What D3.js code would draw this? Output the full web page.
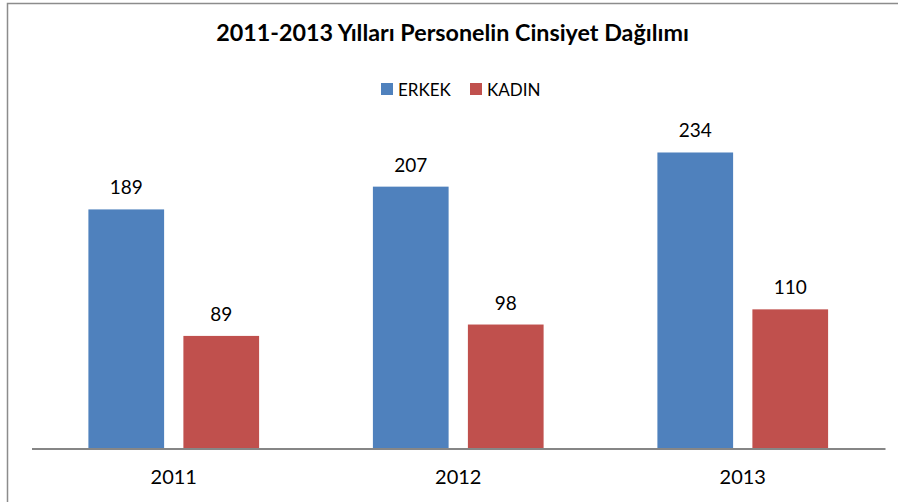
<!DOCTYPE html>
<html><head><meta charset="utf-8">
<script src="https://cdn.jsdelivr.net/npm/d3@7"></script>
<style>body{margin:0;background:#fff}svg{display:block}text{font-family:Lato,"Open Sans",sans-serif}</style>
</head><body>
<svg id="c" width="898" height="502"></svg>
<script>
const categories = ["2011", "2012", "2013"];
const seriesNames = ["ERKEK", "KADIN"];
const erkek = [189, 207, 234];
const kadin = [89, 98, 110];
const colors = ["#4F81BD", "#C0504D"];
const title = "2011-2013 Yılları Personelin Cinsiyet Dağılımı";

const svg = d3.select("#c");
const W = 898, H = 502;
svg.append("rect").attr("x", 0).attr("y", 0).attr("width", W).attr("height", H).attr("fill", "#fff");
svg.append("rect").attr("x", 7.5).attr("y", 3.5).attr("width", W + 10).attr("height", H + 10)
  .attr("fill", "none").attr("stroke", "#8c8c8c").attr("stroke-width", 1.5);

const x = d3.scaleBand().domain(categories).range([31.5, 885]).paddingInner(0).paddingOuter(0);
const xs = d3.scaleBand().domain(seriesNames).range([0, x.bandwidth()]).paddingInner(0.203).paddingOuter(0.599);
const y = d3.scaleLinear().domain([0, 250]).range([448.5, 132.25]);

const data = categories.map((c, i) => ({cat: c, vals: [erkek[i], kadin[i]]}));

const g = svg.append("g");
const groups = g.selectAll("g.grp").data(data).join("g").attr("class", "grp")
  .attr("transform", d => `translate(${x(d.cat)},0)`);
groups.selectAll("rect").data(d => d.vals.map((v, j) => ({s: seriesNames[j], v, j})))
  .join("rect")
  .attr("x", d => xs(d.s)).attr("width", xs.bandwidth())
  .attr("y", d => y(d.v)).attr("height", d => y(0) - y(d.v))
  .attr("fill", d => colors[d.j]);
groups.selectAll("text.lbl").data(d => d.vals.map((v, j) => ({s: seriesNames[j], v, j})))
  .join("text").attr("class", "lbl")
  .attr("x", d => xs(d.s) + xs.bandwidth() / 2).attr("y", d => y(d.v) - 15)
  .attr("text-anchor", "middle").attr("font-size", 19).attr("fill", "#000")
  .text(d => d.v);

// x axis
const xAxis = d3.axisBottom(x).tickSize(0).tickPadding(21);
const ax = svg.append("g").attr("transform", `translate(0,${y(0)})`).call(xAxis);
ax.select(".domain").attr("stroke", "#868686").attr("stroke-width", 2);
ax.selectAll(".tick text").attr("font-size", 20).attr("fill", "#000").attr("font-family", "Lato,'Open Sans',sans-serif")
  .attr("dy", "0.71em");

// title
svg.append("text").attr("x", 452.5).attr("y", 41).attr("text-anchor", "middle")
  .attr("font-size", 23.3).attr("font-weight", "bold").attr("fill", "#000").text(title);

// legend
const legX = [381, 470];
const leg = svg.append("g");
seriesNames.forEach((s, j) => {
  leg.append("rect").attr("x", legX[j]).attr("y", 83).attr("width", 12).attr("height", 12).attr("fill", colors[j]);
  leg.append("text").attr("x", legX[j] + 17).attr("y", 95.5).attr("font-size", 17).attr("fill", "#000").text(s);
});
</script>
</body></html>
